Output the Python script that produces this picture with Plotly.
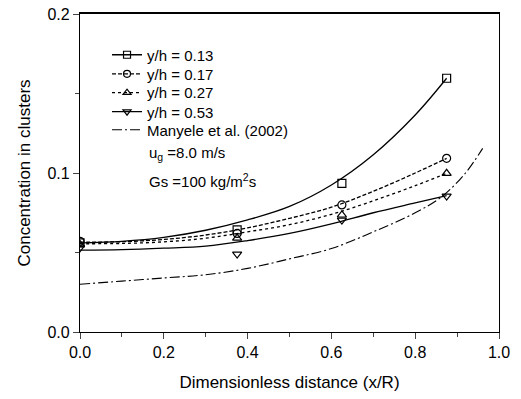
import plotly.graph_objects as go

# Measured points
x_meas = [0.0, 0.375, 0.625, 0.875]
y013 = [0.056, 0.0642, 0.0935, 0.1596]
y017 = [0.057, 0.062, 0.0799, 0.1092]
y027 = [0.055, 0.059, 0.0736, 0.0998]
y053 = [0.053, 0.049, 0.0704, 0.0855]

# Fitted curves
xc = [0.0, 0.1, 0.2, 0.3, 0.4, 0.5, 0.6, 0.7, 0.8, 0.875]
c013 = [0.0560, 0.0570, 0.0595, 0.0640, 0.0705, 0.0790, 0.0925, 0.1115, 0.1365, 0.1596]
c017 = [0.0565, 0.0568, 0.0582, 0.0610, 0.0655, 0.0715, 0.0785, 0.0885, 0.1000, 0.1092]
c027 = [0.0555, 0.0557, 0.0567, 0.0590, 0.0630, 0.0675, 0.0740, 0.0825, 0.0920, 0.0998]
c053 = [0.0515, 0.0518, 0.0527, 0.0540, 0.0575, 0.0620, 0.0680, 0.0750, 0.0812, 0.0858]

x_many = [0.0, 0.1, 0.2, 0.3, 0.4, 0.5, 0.6, 0.7, 0.8, 0.863, 0.92, 0.961]
y_many = [0.030, 0.032, 0.034, 0.036, 0.040, 0.046, 0.0525, 0.063, 0.075, 0.085, 0.100, 0.1155]

names = ["y/h = 0.13", "y/h = 0.17", "y/h = 0.27", "y/h = 0.53"]
symbols = ["square-open", "circle-open", "triangle-up-open", "triangle-down-open"]
dashes = ["solid", "4px,2px", "dot", "solid"]
meas = [y013, y017, y027, y053]
curves = [c013, c017, c027, c053]
legend_ids = ["legend", "legend2", "legend3", "legend4", "legend5"]
legend_rows = [0.871, 0.811, 0.752, 0.692, 0.635]

FONT = "Liberation Sans, Arial, Helvetica"

fig = go.Figure()
for i, (nm, sym, dsh, ym, yc) in enumerate(zip(names, symbols, dashes, meas, curves)):
    fig.add_trace(go.Scatter(x=xc, y=yc, mode="lines",
                             line=dict(color="black", width=1.3, dash=dsh, shape="spline", smoothing=1.0),
                             showlegend=False, hoverinfo="skip"))
    fig.add_trace(go.Scatter(x=x_meas, y=ym, mode="markers", cliponaxis=True,
                             marker=dict(symbol=sym, size=8, color="black", line=dict(width=1.2, color="black")),
                             showlegend=False))
    fig.add_trace(go.Scatter(x=[None], y=[None], mode="lines+markers", name=nm, legend=legend_ids[i],
                             line=dict(color="black", width=1.3, dash=dsh),
                             marker=dict(symbol=sym, size=7, color="black", line=dict(width=1.2, color="black"))))

fig.add_trace(go.Scatter(x=x_many, y=y_many, mode="lines", name="Manyele et al. (2002)", legend="legend5",
                         line=dict(color="black", width=1.1, dash="10px,3px,2px,3px", shape="spline")))

fig.add_annotation(x=0.16, y=0.1125, xref="x", yref="y", text="u<sub>g</sub> =8.0 m/s", showarrow=False,
                   xanchor="left", yanchor="middle", font=dict(size=15, color="black", family=FONT))
fig.add_annotation(x=0.16, y=0.0950, xref="x", yref="y", text="Gs =100 kg/m<sup>2</sup>s", showarrow=False,
                   xanchor="left", yanchor="middle", font=dict(size=15, color="black", family=FONT))

legend_common = dict(x=0.0645, xanchor="left", yanchor="middle", bgcolor="rgba(0,0,0,0)",
                     font=dict(size=15, family=FONT, color="black"), itemwidth=30, borderwidth=0)
layout_legends = {}
for lid, ly in zip(legend_ids, legend_rows):
    layout_legends[lid] = dict(legend_common, y=ly)

fig.update_layout(
    width=521, height=399,
    margin=dict(l=80, r=22, t=14, b=67, autoexpand=False),
    paper_bgcolor="white", plot_bgcolor="white",
    font=dict(family=FONT, color="black", size=16),
    xaxis=dict(range=[0, 1.0], tickvals=[0, 0.2, 0.4, 0.6, 0.8, 1.0], tickformat=".1f", automargin=False,
               ticks="outside", ticklen=6, tickwidth=1.2, showline=True, linecolor="black", linewidth=1.3,
               mirror=True, showgrid=False, zeroline=False,
               minor=dict(tickvals=[0.1, 0.3, 0.5, 0.7, 0.9], ticks="outside", ticklen=4, tickwidth=1.2),
               title=dict(text="Dimensionless distance (x/R)", font=dict(size=17), standoff=15)),
    xaxis2=dict(overlaying="x", side="top", range=[0, 1.0], showline=True, linecolor="black", linewidth=2,
                showticklabels=False, ticks="", showgrid=False, zeroline=False, matches="x"),
    yaxis=dict(range=[0, 0.2], tickvals=[0, 0.1, 0.2], tickformat=".1f", automargin=False,
               ticks="outside", ticklen=6, tickwidth=1.2, showline=True, linecolor="black", linewidth=1.3,
               mirror=True, showgrid=False, zeroline=False,
               minor=dict(tickvals=[0.05, 0.15], ticks="outside", ticklen=4, tickwidth=1.2),
               title=dict(text="Concentration in clusters", font=dict(size=17), standoff=12)),
    **layout_legends,
)
# an empty trace on the top axis so its frame line is drawn
fig.add_trace(go.Scatter(x=[None], y=[None], xaxis="x2", showlegend=False, hoverinfo="skip"))

fig.write_html("out.html", config={"displayModeBar": False},
               post_script="document.body.style.margin='0';document.body.style.overflow='hidden';")
